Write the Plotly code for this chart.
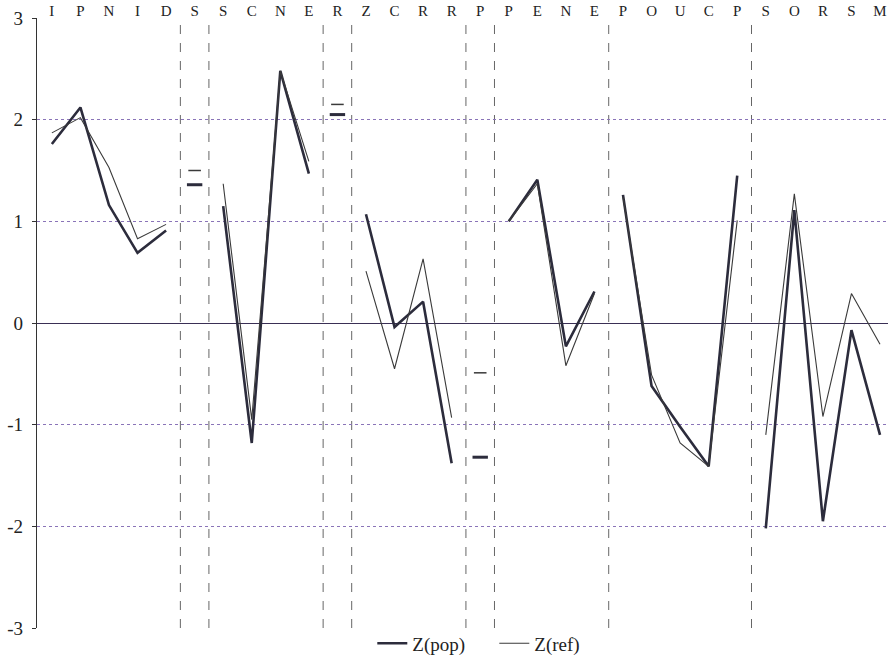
import plotly.graph_objects as go

# Scale letters along the top
letters = ["I", "P", "N", "I", "D", "S", "S", "C", "N", "E", "R", "Z", "C", "R", "R",
           "P", "P", "E", "N", "E", "P", "O", "U", "C", "P", "S", "O", "R", "S", "M"]

# Z scores per scale
z_pop = [1.76, 2.12, 1.16, 0.69, 0.91,
         1.36,
         1.15, -1.18, 2.48, 1.47,
         2.05,
         1.07, -0.04, 0.21, -1.38,
         -1.32,
         1.00, 1.41, -0.23, 0.31,
         1.26, -0.62, -1.02, -1.41, 1.45,
         -2.02, 1.11, -1.95, -0.07, -1.10]
z_ref = [1.87, 2.02, 1.53, 0.83, 0.97,
         1.50,
         1.37, -0.95, 2.48, 1.59,
         2.15,
         0.51, -0.45, 0.63, -0.93,
         -0.49,
         1.00, 1.37, -0.42, 0.29,
         1.24, -0.51, -1.18, -1.41, 1.01,
         -1.10, 1.27, -0.92, 0.29, -0.21]

# Groups of scales (index ranges) separated by dashed lines
groups = [[0, 1, 2, 3, 4], [5], [6, 7, 8, 9], [10], [11, 12, 13, 14], [15],
          [16, 17, 18, 19], [20, 21, 22, 23, 24], [25, 26, 27, 28, 29]]

y_ticks = [-3, -2, -1, 0, 1, 2, 3]
y_labels = ["-3", "-2", "-1", "0", "1", "2", "3"]

series = [("Z(pop)", z_pop, 2.6, "#2c2c3c", 11),
          ("Z(ref)", z_ref, 1.1, "#3a3a3a", 9)]

fig = go.Figure()
for name, vals, w, col, msize in series:
    xs, ys, ix, iy = [], [], [], []
    for g in groups:
        if len(g) > 1:
            xs += g + [None]
            ys += [vals[i] for i in g] + [None]
        else:
            ix += g
            iy += [vals[i] for i in g]
    fig.add_trace(go.Scatter(x=xs, y=ys, mode="lines", name=name, legendgroup=name,
                             line=dict(color=col, width=w), connectgaps=False))
    fig.add_trace(go.Scatter(x=ix, y=iy, mode="markers", name=name, legendgroup=name,
                             showlegend=False,
                             marker=dict(symbol="line-ew", size=msize,
                                         line=dict(color=col, width=w + 0.4))))

# Dashed separators between groups
for a, b in zip(groups[:-1], groups[1:]):
    xb = (a[-1] + b[0]) / 2
    fig.add_shape(type="line", x0=xb, x1=xb, xref="x", y0=0, y1=1, yref="paper",
                  line=dict(color="#666666", width=1, dash="dash"), layer="below")

serif = "Liberation Serif, Times New Roman, serif"
fig.update_layout(
    width=888, height=659,
    margin=dict(l=37, r=0, t=18, b=31, autoexpand=False),
    paper_bgcolor="white", plot_bgcolor="white",
    font=dict(family=serif, size=17, color="#222"),
    showlegend=True,
    legend=dict(orientation="h", x=0.394, xanchor="left", y=0.006, yanchor="top",
                font=dict(family=serif, size=19, color="#222"),
                bgcolor="rgba(0,0,0,0)", entrywidth=77, entrywidthmode="pixels",
                itemwidth=30, tracegroupgap=0),
    xaxis=dict(range=[-0.52, 29.28], side="top", tickmode="array",
               tickvals=list(range(len(letters))), ticktext=letters,
               showgrid=False, zeroline=False, showline=False, ticks="",
               automargin=False, ticklabelstandoff=-2,
               tickfont=dict(family=serif, size=15, color="#222")),
    yaxis=dict(range=[-3, 3], tickmode="array", tickvals=y_ticks, ticktext=y_labels,
               showgrid=True, gridcolor="#8a74b8", griddash="dot", gridwidth=1,
               zeroline=True, zerolinecolor="#3a2f55", zerolinewidth=1.2,
               showline=True, linecolor="#333", linewidth=1.2,
               ticks="outside", ticklen=4, tickcolor="#333",
               automargin=False, ticklabelstandoff=5,
               tickfont=dict(family=serif, size=19, color="#222")),
)

fig.write_html("out.html", config={"displayModeBar": False},
               post_script="document.body.style.margin='0';document.body.style.overflow='hidden';")
